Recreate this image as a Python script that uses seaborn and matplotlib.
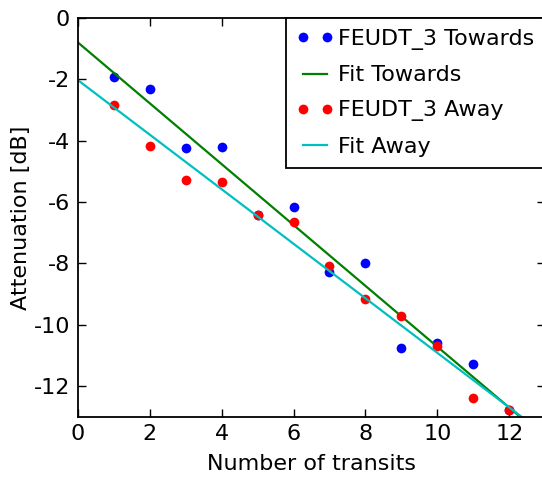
import numpy as np
import pandas as pd
import matplotlib
matplotlib.use("Agg")
import matplotlib.pyplot as plt
import seaborn as sns
from matplotlib.legend_handler import HandlerLine2D

# ---- data ----
transits = [1, 2, 3, 4, 5, 6, 7, 8, 9, 10, 11, 12]
towards = [-1.91, -2.31, -4.25, -4.20, -6.42, -6.16, -8.27, -7.98, -10.75, -10.59, -11.27, -12.79]
away = [-2.83, -4.17, -5.28, -5.33, -6.42, -6.64, -8.10, -9.16, -9.73, -10.71, -12.39, -12.79]
fit_towards = [-0.993, -0.79]   # slope, intercept
fit_away = [-0.890, -2.02]      # slope, intercept
fit_range = [0, 13]
x_ticks = [0, 2, 4, 6, 8, 10, 12]
y_ticks = [0, -2, -4, -6, -8, -10, -12]

plt.rcParams['axes.unicode_minus'] = False
plt.rcParams['font.family'] = ['DejaVu Sans']

df_t = pd.DataFrame({'x': transits, 'y': towards})
df_a = pd.DataFrame({'x': transits, 'y': away})
xf = np.array(fit_range, dtype=float)
df_ft = pd.DataFrame({'x': xf, 'y': fit_towards[0] * xf + fit_towards[1]})
df_fa = pd.DataFrame({'x': xf, 'y': fit_away[0] * xf + fit_away[1]})

fig = plt.figure(figsize=(5.42, 4.82), dpi=100)
ax = fig.add_axes([0.1434, 0.1355, 0.8627, 0.827])

FS = 16
ms = 7
lw = 1.6
sns.lineplot(data=df_t, x='x', y='y', ax=ax, marker='o', linestyle='', color='b',
             markersize=ms, markeredgecolor='none', label='FEUDT_3 Towards')
sns.lineplot(data=df_ft, x='x', y='y', ax=ax, color='g', linewidth=lw, label='Fit Towards')
sns.lineplot(data=df_a, x='x', y='y', ax=ax, marker='o', linestyle='', color='r',
             markersize=ms, markeredgecolor='none', label='FEUDT_3 Away')
sns.lineplot(data=df_fa, x='x', y='y', ax=ax, color='c', linewidth=lw, label='Fit Away')

ax.set_xlim(0, 13)
ax.set_ylim(-13, 0)
ax.set_xticks(x_ticks)
ax.set_yticks(y_ticks)
ax.set_xticklabels([str(v) for v in x_ticks])
ax.set_yticklabels([str(v) for v in y_ticks])
ax.tick_params(direction='in', length=6, width=1, top=True, right=True,
               labelsize=FS, pad=5.5, colors='black')
for s in ax.spines.values():
    s.set_linewidth(1.3)
    s.set_color('black')
ax.set_xlabel('Number of transits', fontsize=FS, labelpad=7)
ax.set_ylabel('Attenuation [dB]', fontsize=FS, labelpad=2)
ax.grid(False)


class ShrunkHandler(HandlerLine2D):
    """Line/marker handle drawn only between the two marker positions."""
    def __init__(self, shrink, **kw):
        super().__init__(**kw)
        self.shrink = shrink

    def create_artists(self, legend, orig_handle, xdescent, ydescent,
                       width, height, fontsize, trans):
        s = self.shrink * fontsize
        return super().create_artists(legend, orig_handle, xdescent - s, ydescent,
                                      width - 2 * s, height, fontsize, trans)


handles, labels = ax.get_legend_handles_labels()
hmap = {h: ShrunkHandler(0.27, numpoints=2, marker_pad=0) for h in handles}
leg = ax.legend(handles, labels, loc='upper right', fontsize=FS, numpoints=2,
                handler_map=hmap, handlelength=1.6, handletextpad=0.23,
                borderpad=0.5, labelspacing=0.68, borderaxespad=0,
                fancybox=False, framealpha=1, edgecolor='black')
leg.get_frame().set_linewidth(1.3)

fig.savefig('out.png', dpi=100)
